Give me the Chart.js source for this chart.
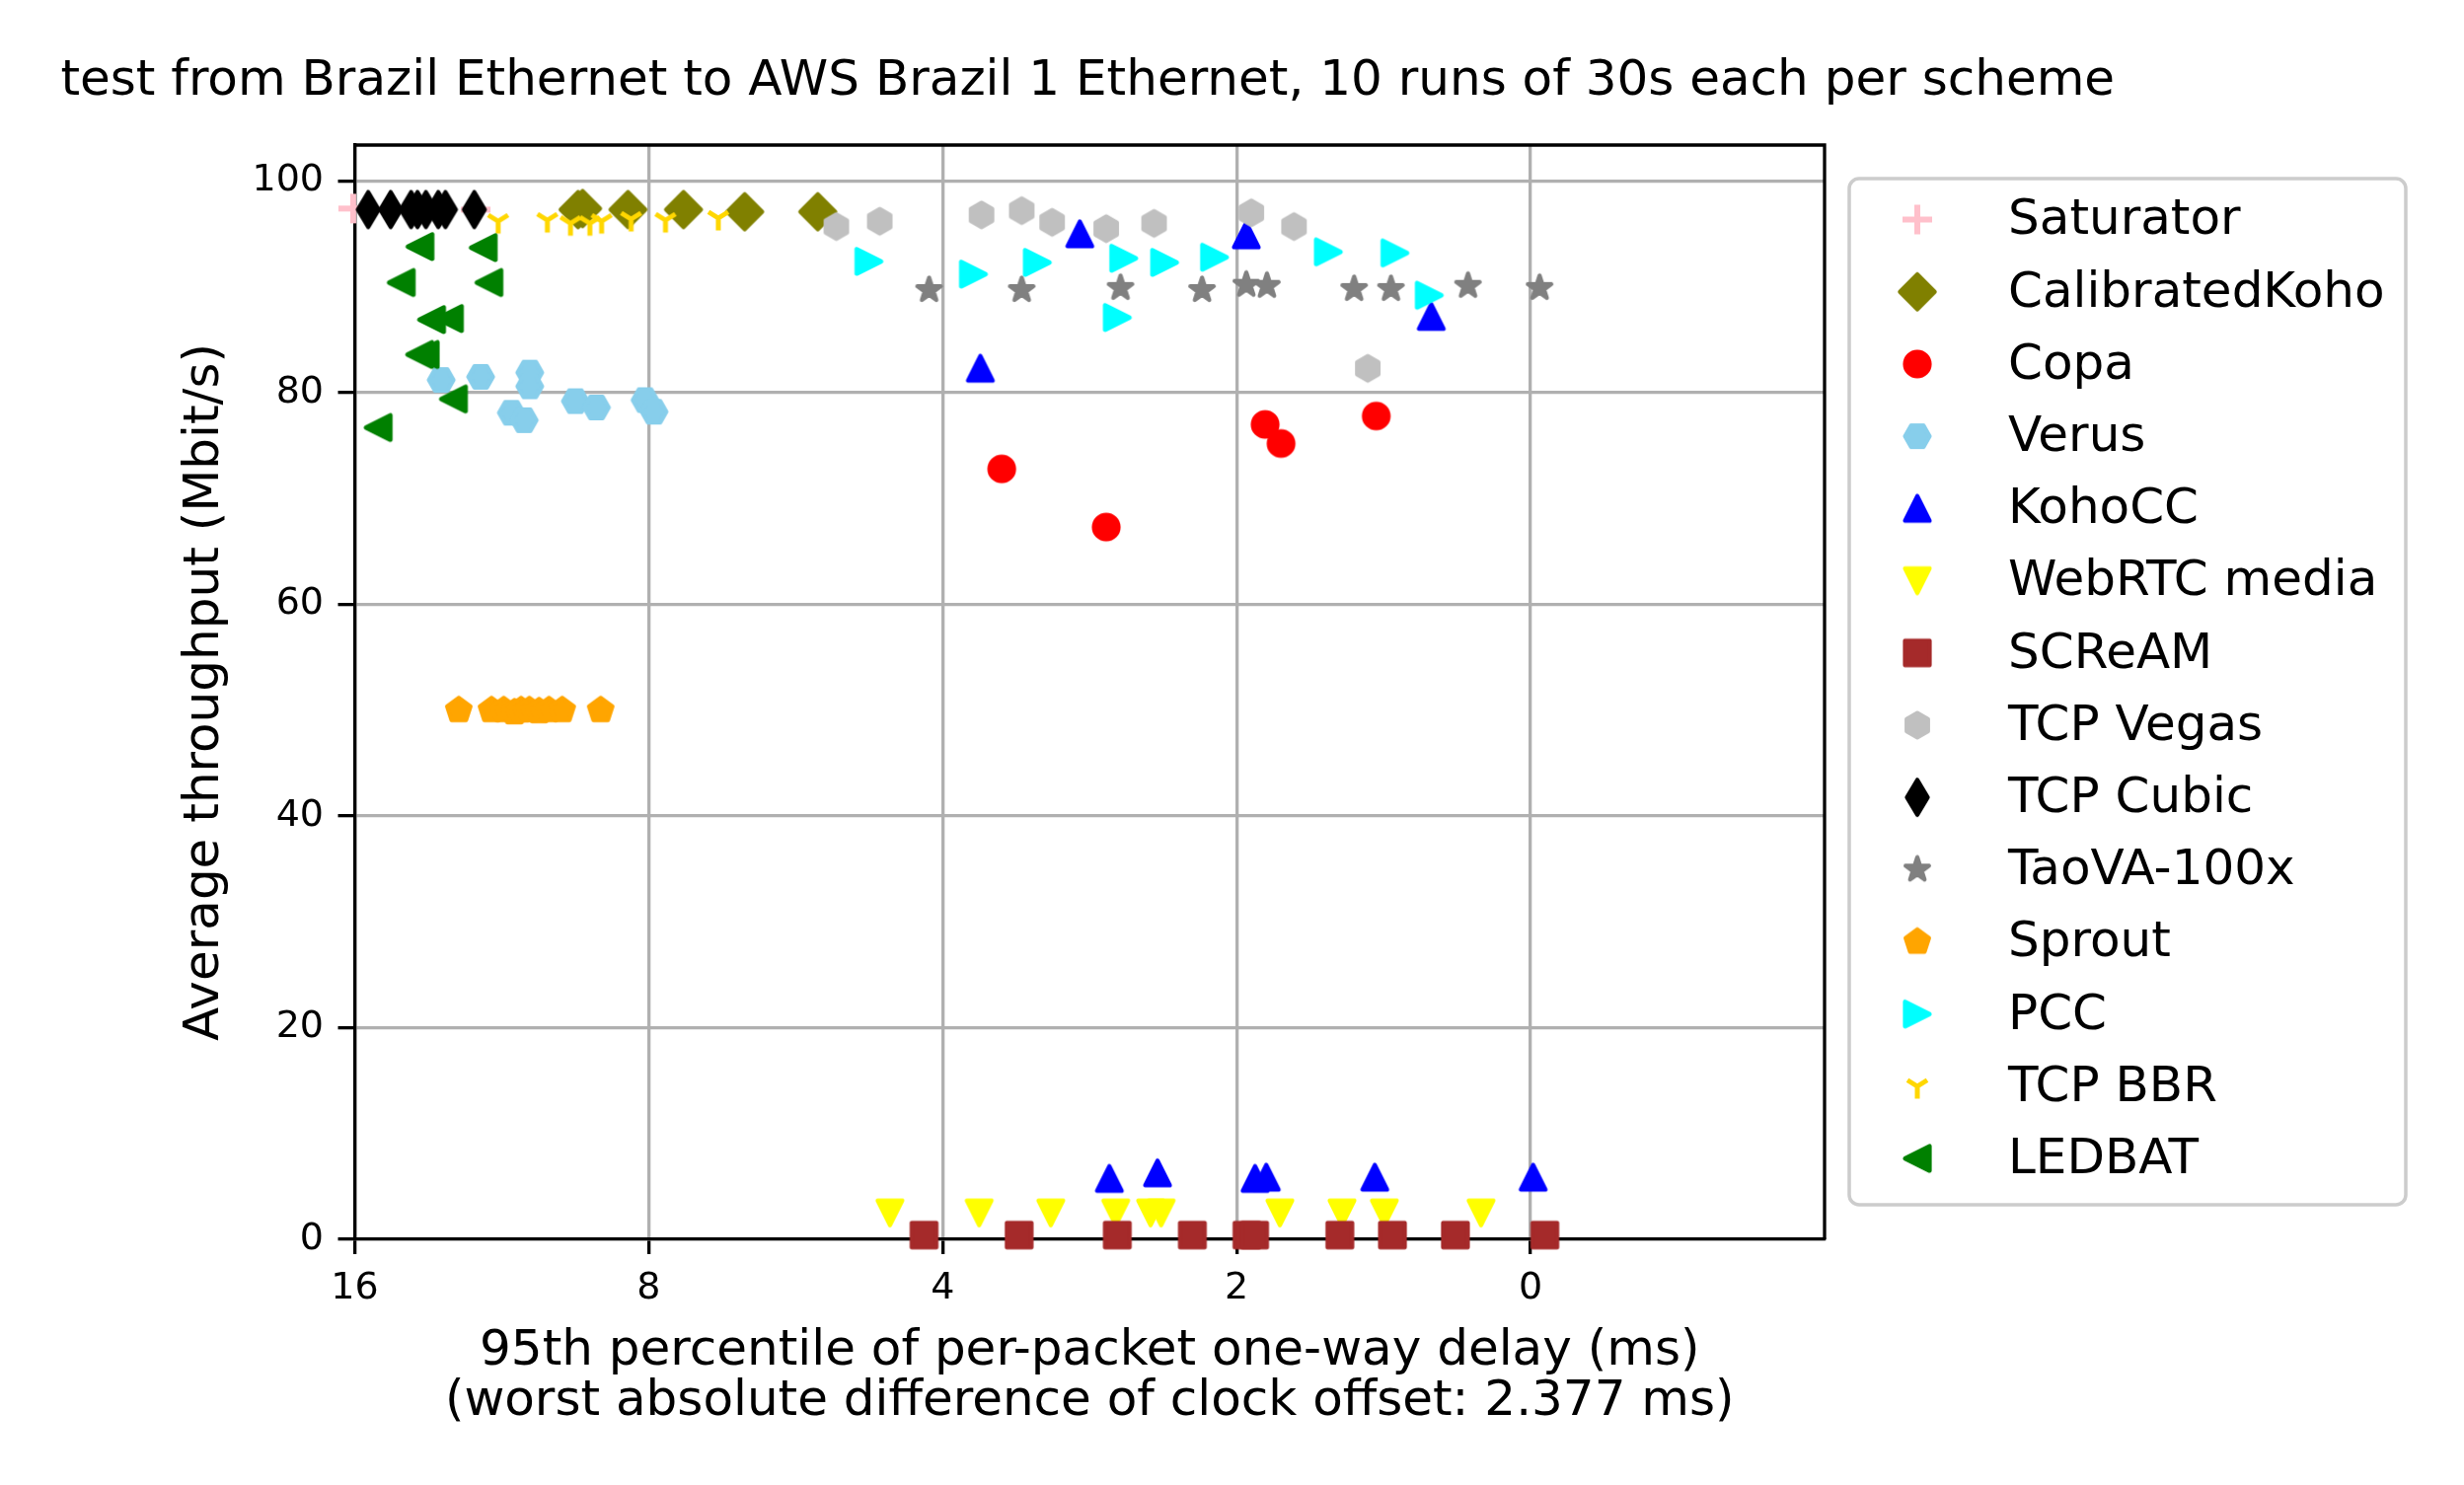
<!DOCTYPE html>
<html><head><meta charset="utf-8">
<script src="https://cdn.jsdelivr.net/npm/chart.js@4.4.1/dist/chart.umd.min.js"></script>
<style>html,body{margin:0;padding:0;background:#fff;overflow:hidden}canvas{display:block}</style>
</head><body>
<canvas id="c" width="2497" height="1505" style="width:2497px;height:1505px"></canvas>
<script>
// ---------------- data ----------------
const chartTitle = 'test from Brazil Ethernet to AWS Brazil 1 Ethernet, 10 runs of 30s each per scheme';
const xTitle = ['95th percentile of per-packet one-way delay (ms)', '(worst absolute difference of clock offset: 2.377 ms)'];
const yTitle = 'Average throughput (Mbit/s)';
const xTickValues = [16, 8, 4, 2, 1];
const xTickLabels = ['16', '8', '4', '2', '0'];
const yTickValues = [0, 20, 40, 60, 80, 100];
const yTickLabels = ['0', '20', '40', '60', '80', '100'];

const schemes = ['Saturator', 'CalibratedKoho', 'Copa', 'Verus', 'KohoCC', 'WebRTC media', 'SCReAM',
  'TCP Vegas', 'TCP Cubic', 'TaoVA-100x', 'Sprout', 'PCC', 'TCP BBR', 'LEDBAT'];
const schemeColors = ['#ffc0cb', '#808000', '#ff0000', '#87ceeb', '#0000ff', '#ffff00', '#a52a2a',
  '#c0c0c0', '#000000', '#808080', '#ffa500', '#00ffff', '#ffd700', '#008000'];
const schemeMarkers = ['+', 'D', 'o', 'H', '^', 'v', 's', 'h', 'd', '*', 'p', '>', '1', '<'];

const saturatorDelay = [16.06, 14.68, 12.03];
const saturatorTput = [97.4, 97.3, 97.3];
const calibratedKohoDelay = [9.45, 9.35, 8.40, 7.37, 6.38, 5.37];
const calibratedKohoTput = [97.3, 97.4, 97.3, 97.3, 97.1, 97.1];
const copaDelay = [3.48, 2.72, 1.870, 1.801, 1.439];
const copaTput = [72.8, 67.3, 77.0, 75.2, 77.8];
const verusDelay = [13.05, 11.89, 10.59, 10.59, 9.51, 9.05, 11.06, 10.73, 8.07, 7.90];
const verusTput = [81.2, 81.5, 81.9, 80.6, 79.2, 78.6, 78.1, 77.4, 79.3, 78.2];
const kohoCCDelay = [2.895, 1.955, 1.264, 3.66, 2.70, 2.41, 1.915, 1.865, 1.444, 0.994];
const kohoCCTput = [95.0, 94.9, 87.2, 82.3, 5.74, 6.27, 5.74, 5.86, 5.86, 5.86];
const webrtcDelay = [4.53, 3.67, 3.10, 2.66, 2.45, 2.39, 1.806, 1.560, 1.412, 1.124];
const webrtcTput = [2.5, 2.5, 2.5, 2.5, 2.5, 2.5, 2.5, 2.5, 2.5, 2.5];
const screamDelay = [4.18, 3.34, 2.65, 2.22, 1.952, 1.917, 1.568, 1.385, 1.194, 0.967];
const screamTput = [0.4, 0.4, 0.4, 0.4, 0.4, 0.4, 0.4, 0.4, 0.4, 0.4];
const vegasDelay = [5.14, 4.64, 3.65, 3.32, 3.09, 2.72, 2.43, 1.932, 1.747, 1.468];
const vegasTput = [95.7, 96.2, 96.8, 97.2, 96.1, 95.5, 96.0, 97.0, 95.7, 82.3];
const cubicDelay = [15.50, 14.70, 14.01, 13.80, 13.53, 13.14, 12.92, 12.07];
const cubicTput = [97.3, 97.3, 97.3, 97.3, 97.3, 97.3, 97.3, 97.3];
const taovaDelay = [4.13, 3.32, 2.63, 2.17, 1.955, 1.862, 1.516, 1.390, 1.159, 0.979];
const taovaTput = [89.7, 89.7, 89.9, 89.7, 90.2, 90.1, 89.8, 89.8, 90.1, 89.9];
const sproutDelay = [12.52, 11.59, 11.26, 10.98, 10.81, 10.60, 10.36, 10.12, 9.81, 8.96];
const sproutTput = [50.0, 50.0, 50.0, 49.8, 50.0, 50.0, 49.9, 50.0, 50.0, 50.0];
const pccDelay = [4.76, 3.72, 3.20, 2.61, 2.37, 2.107, 2.65, 1.611, 1.377, 1.270];
const pccTput = [92.4, 91.2, 92.3, 92.7, 92.3, 92.8, 87.1, 93.3, 93.2, 89.2];
const bbrDelay = [11.41, 10.16, 9.62, 9.19, 8.94, 8.34, 7.69, 6.79];
const bbrTput = [96.2, 96.3, 96.0, 96.0, 96.2, 96.4, 96.3, 96.5];
const ledbatDelay = [13.72, 11.82, 14.34, 11.66, 13.35, 12.80, 13.73, 13.55, 12.68, 15.14];
const ledbatTput = [93.8, 93.7, 90.4, 90.4, 86.9, 87.0, 83.6, 83.6, 79.4, 76.7];

const schemeDelays = [saturatorDelay, calibratedKohoDelay, copaDelay, verusDelay, kohoCCDelay, webrtcDelay,
  screamDelay, vegasDelay, cubicDelay, taovaDelay, sproutDelay, pccDelay, bbrDelay, ledbatDelay];
const schemeTputs = [saturatorTput, calibratedKohoTput, copaTput, verusTput, kohoCCTput, webrtcTput,
  screamTput, vegasTput, cubicTput, taovaTput, sproutTput, pccTput, bbrTput, ledbatTput];

// ---------------- marker glyphs (matplotlib-like) ----------------
const FONT = 'DejaVu Sans';
function polygon(ctx, pts) {
  ctx.beginPath();
  pts.forEach((p, i) => i ? ctx.lineTo(p[0], p[1]) : ctx.moveTo(p[0], p[1]));
  ctx.closePath();
}
function regular(n, r, startDeg) {
  const pts = [];
  for (let k = 0; k < n; k++) {
    const a = (startDeg + k * 360 / n) * Math.PI / 180;
    pts.push([r * Math.cos(a), -r * Math.sin(a)]);
  }
  return pts;
}
function makeMarker(shape, color) {
  const c = document.createElement('canvas');
  c.width = 60; c.height = 60;
  const ctx = c.getContext('2d');
  ctx.translate(30, 30);
  ctx.fillStyle = color; ctx.strokeStyle = color;
  ctx.lineJoin = 'round';
  const h = 12.5;
  ctx.lineWidth = 4.2;
  let filled = true;
  switch (shape) {
    case 'o': ctx.beginPath(); ctx.arc(0, 0, h, 0, Math.PI * 2); break;
    case 'D': polygon(ctx, [[0, -17.68], [17.68, 0], [0, 17.68], [-17.68, 0]]); break;
    case 'd': polygon(ctx, [[0, -17.68], [10.6, 0], [0, 17.68], [-10.6, 0]]); break;
    case 's': polygon(ctx, [[-h, -h], [h, -h], [h, h], [-h, h]]); break;
    case '^': polygon(ctx, [[0, -h], [h, h], [-h, h]]); break;
    case 'v': polygon(ctx, [[0, h], [h, -h], [-h, -h]]); break;
    case '>': polygon(ctx, [[h, 0], [-h, -h], [-h, h]]); break;
    case '<': polygon(ctx, [[-h, 0], [h, -h], [h, h]]); break;
    case 'h': polygon(ctx, regular(6, h, 90)); break;
    case 'H': polygon(ctx, regular(6, h, 0)); break;
    case 'p': polygon(ctx, regular(5, h, 90)); break;
    case '*': {
      const pts = [];
      for (let k = 0; k < 10; k++) {
        const r = k % 2 ? h * 0.381966 : h;
        const a = (90 + k * 36) * Math.PI / 180;
        pts.push([r * Math.cos(a), -r * Math.sin(a)]);
      }
      polygon(ctx, pts); break;
    }
    case '+':
      filled = false; ctx.lineWidth = 6; ctx.lineCap = 'butt';
      ctx.beginPath(); ctx.moveTo(-15, 0); ctx.lineTo(15, 0); ctx.moveTo(0, -15); ctx.lineTo(0, 15); break;
    case '1':
      filled = false; ctx.lineWidth = 5; ctx.lineCap = 'butt';
      ctx.beginPath(); ctx.moveTo(0, 0); ctx.lineTo(0, h);
      ctx.moveTo(0, 0); ctx.lineTo(10, -6.25); ctx.moveTo(0, 0); ctx.lineTo(-10, -6.25); break;
  }
  if (filled) ctx.fill();
  ctx.stroke();
  return c;
}
const markerImgs = schemes.map((s, i) => makeMarker(schemeMarkers[i], schemeColors[i]));

// ---------------- datasets ----------------
const datasets = schemes.map((name, i) => ({
  label: name,
  data: schemeDelays[i].map((d, k) => ({x: d, y: schemeTputs[i][k]})),
  pointStyle: markerImgs[i],
  pointRadius: 18,
  backgroundColor: schemeColors[i],
  borderColor: schemeColors[i],
  showLine: false,
  clip: false,
  order: schemes.length - i
}));

// ---------------- plugins ----------------
const spinesAndTitle = {
  id: 'spinesAndTitle',
  afterDraw(chart) {
    const ctx = chart.ctx, a = chart.chartArea;
    ctx.save();
    ctx.strokeStyle = '#000'; ctx.lineWidth = 3.3;
    ctx.beginPath();
    ctx.moveTo(a.left, a.top); ctx.lineTo(a.right, a.top); ctx.lineTo(a.right, a.bottom);
    ctx.stroke();
    ctx.fillStyle = '#000';
    ctx.font = '50px "' + FONT + '"';
    ctx.textAlign = 'center'; ctx.textBaseline = 'alphabetic';
    ctx.fillText(chartTitle, (a.left + a.right) / 2 - 2, 96);
    // legend
    const bx = 1874, by = 181, bw = 564, bh = 1040;
    ctx.beginPath();
    ctx.roundRect(bx, by, bw, bh, 10);
    ctx.fillStyle = 'rgba(255,255,255,0.8)'; ctx.fill();
    ctx.strokeStyle = '#cccccc'; ctx.lineWidth = 3.5; ctx.stroke();
    ctx.fillStyle = '#000';
    ctx.textAlign = 'left'; ctx.textBaseline = 'middle';
    schemes.forEach((name, i) => {
      const y = 222.5 + 73.2 * i;
      ctx.drawImage(markerImgs[i], 1943 - 30, y - 30);
      ctx.fillText(name, 2035, y + 2);
    });
    ctx.restore();
  }
};

Chart.defaults.font.family = FONT;
Chart.defaults.color = '#000';

new Chart(document.getElementById('c'), {
  type: 'scatter',
  data: {datasets},
  options: {
    responsive: false,
    devicePixelRatio: 1,
    animation: false,
    events: [],
    layout: {padding: {left: 0, right: 648, top: 147, bottom: 0}},
    plugins: {legend: {display: false}, tooltip: {enabled: false}, title: {display: false}},
    scales: {
      x: {
        type: 'logarithmic', min: 0.5, max: 16, reverse: true, position: 'bottom', z: 1,
        afterBuildTicks: s => { s.ticks = xTickValues.map(v => ({value: v})); },
        afterFit: s => { s.height = 249; },
        ticks: {autoSkip: false, maxRotation: 0, minRotation: 0, padding: 12, color: '#000',
          font: {family: FONT, size: 38}, callback: (v, i) => xTickLabels[i]},
        grid: {color: '#b0b0b0', lineWidth: 3.3, tickColor: '#000', tickLength: 15, tickWidth: 3.3},
        border: {display: true, color: '#000', width: 3.3},
        title: {display: true, text: xTitle, color: '#000', font: {family: FONT, size: 50, lineHeight: 1.02},
          padding: {top: 0, bottom: 58}}
      },
      y: {
        type: 'linear', min: 0, max: 103.4, position: 'left', z: 1,
        afterBuildTicks: s => { s.ticks = yTickValues.map(v => ({value: v})); },
        afterFit: s => { s.width = 359.5; },
        ticks: {padding: 14.5, color: '#000', font: {family: FONT, size: 38},
          callback: (v, i) => yTickLabels[i]},
        grid: {color: '#b0b0b0', lineWidth: 3.3, tickColor: '#000', tickLength: 17, tickWidth: 3.3},
        border: {display: true, color: '#000', width: 3.3},
        title: {display: true, text: yTitle, color: '#000', font: {family: FONT, size: 50, lineHeight: 1.2},
          padding: {top: 178, bottom: 0}}
      }
    }
  },
  plugins: [spinesAndTitle]
});
</script>
</body></html>
